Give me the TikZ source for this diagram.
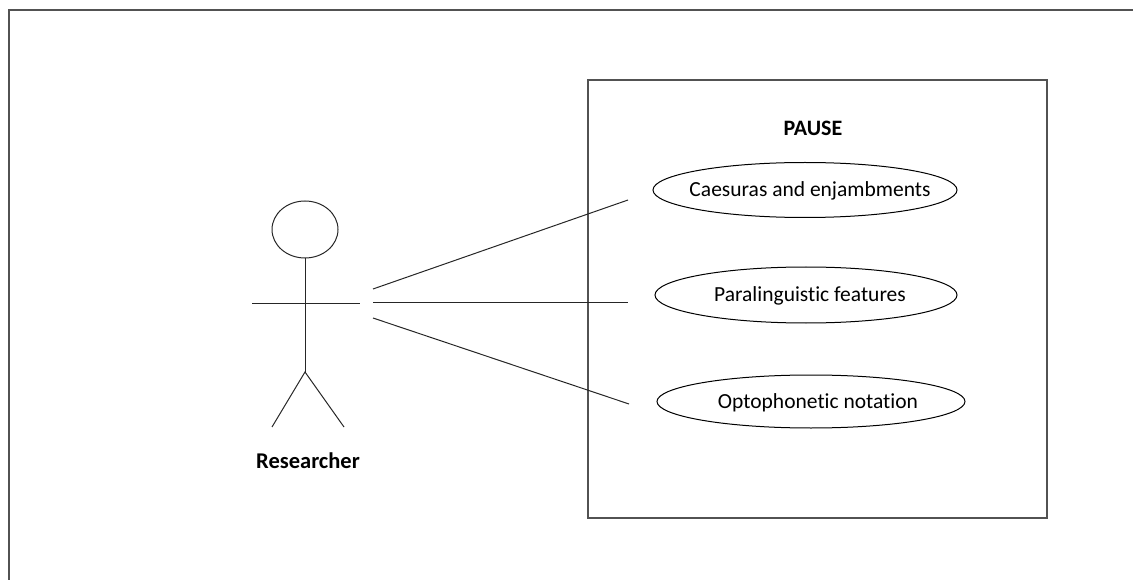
\documentclass[tikz,border=0pt]{standalone}
\usepackage{fontspec}
\setmainfont{Carlito}[Ligatures={NoCommon}]
\usetikzlibrary{shapes.geometric}
\begin{document}
\begin{tikzpicture}[x=1pt,y=-1pt,
  usecase/.style={draw=black, line width=1pt, ellipse, inner sep=0pt},
  uctext/.style={inner sep=0pt, font=\fontsize{21.5}{24}\selectfont},
  blbl/.style={font=\fontsize{22.5}{26}\selectfont\bfseries},
  conn/.style={draw=black!85, line width=1pt},
  frame/.style={draw=black!68, line width=1.6pt}]
\useasboundingbox (0,0) rectangle (1133,580);
% outer frame (cut off at right and bottom)
\draw[frame] (9,590) -- (9,10) -- (1143,10);
% system boundary
\node[frame, rectangle, minimum width=459pt, minimum height=438pt, inner sep=0pt] (sys) at (817.5,299) {};
\node[blbl, font=\fontsize{22}{26}\selectfont\bfseries] (title) at (813,128) {PAUSE};
% use cases
\node[usecase, minimum width=304pt, minimum height=55pt] (uc1) at (805,190) {};
\node[usecase, minimum width=302pt, minimum height=56pt] (uc2) at (806,295) {};
\node[usecase, minimum width=308pt, minimum height=53pt] (uc3) at (811,401.5) {};
\node[uctext] (t1) at ([xshift=5pt,yshift=-1pt]uc1.center) {Caesuras and enjambments};
\node[uctext] (t2) at ([xshift=4pt,yshift=-1pt]uc2.center) {Paralinguistic features};
\node[uctext] (t3) at ([xshift=7pt,yshift=-1pt]uc3.center) {Optophonetic notation};
% actor
\node[draw=black!85, ellipse, line width=1pt, minimum width=66pt, minimum height=57pt, inner sep=0pt] (head) at (305,229.5) {};
\coordinate (hip) at (305,372);
\coordinate (armL) at (252,303);
\coordinate (armR) at (360,303);
\coordinate (footL) at (272,427);
\coordinate (footR) at (344,427);
\draw[conn] (head.south) -- (hip);
\draw[conn] (armL) -- (armR);
\draw[conn] (footL) -- (hip) -- (footR);
\node[blbl] (actor) at (308,461) {Researcher};
% associations
\coordinate (a1) at (373,289);
\coordinate (b1) at (628,200);
\coordinate (a2) at (373,302);
\coordinate (b2) at (628,302);
\coordinate (a3) at (373,318);
\coordinate (b3) at (629,404);
\draw[conn] (a1) -- (b1);
\draw[conn] (a2) -- (b2);
\draw[conn] (a3) -- (b3);
\end{tikzpicture}
\end{document}
